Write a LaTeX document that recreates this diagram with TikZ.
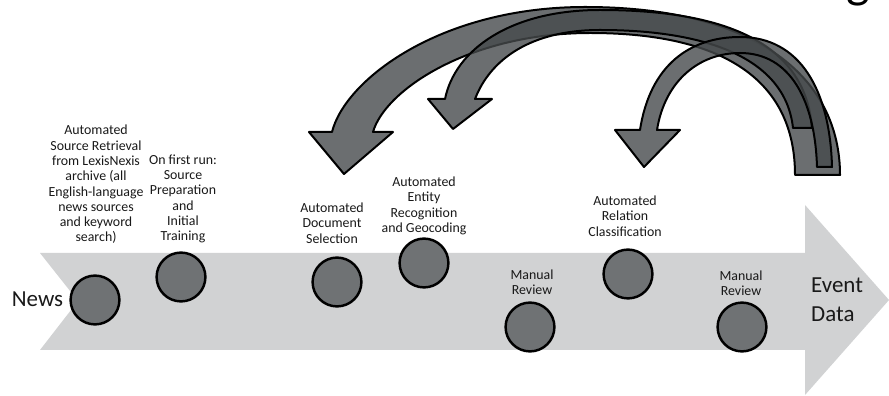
\documentclass[tikz,border=0pt]{standalone}
\usepackage{fontspec}
\setmainfont{Carlito}
\definecolor{bandgray}{RGB}{209,210,211}
\definecolor{stagegray}{RGB}{111,114,116}
\definecolor{arcfill}{RGB}{70,74,76}
\definecolor{labeltext}{RGB}{25,25,25}
\tikzset{
  stage/.style={circle, draw=black, line width=2.1pt, fill=stagegray,
    minimum size=41.5pt, inner sep=0pt},
  lbl/.style={align=center, inner sep=0pt, text=labeltext,
    font=\fontsize{11.8}{13}\selectfont},
  bigtxt/.style={inner sep=0pt, align=left, text=labeltext,
    font=\fontsize{19.5}{24.65}\selectfont},
  loopback/.style={fill=arcfill, fill opacity=0.8, draw=black,
    line width=1.7pt, line join=round},
}
\begin{document}
\begin{tikzpicture}[x=0.85pt,y=-0.85pt]
\useasboundingbox (0,0) rectangle (889,396);
\clip (0,0) rectangle (889,396);

% fragment of the heading above the picture
\node[inner sep=0pt, anchor=south, font=\fontsize{42.5}{50}\selectfont] (headfrag) at (858,6.5) {g};

% main process arrow
\fill[bandgray] (40,253) -- (805,253) -- (805,205) -- (889,300) -- (805,395)
  -- (805,350) -- (40,350) -- (78,301) -- cycle;

% feedback arrows
\draw[loopback] (840,175) .. controls (840,80) and (760,7) .. (585,7)
  .. controls (440,7) and (345,80) .. (332,132) -- (309,132) -- (344,174)
  -- (393,132) -- (373,132) .. controls (385,90) and (470,33) .. (590,33)
  .. controls (750,33) and (795,100) .. (795,175) -- cycle;
\draw[loopback] (812,128) .. controls (805,40) and (720,10) .. (600,10)
  .. controls (510,10) and (455,50) .. (445,99) -- (428,99) -- (453,129)
  -- (492,99) -- (475,99) .. controls (490,60) and (530,30) .. (600,30)
  .. controls (700,30) and (785,55) .. (793,128) -- cycle;
\draw[loopback] (832,167) .. controls (830,90) and (800,37) .. (740,37)
  .. controls (690,37) and (650,65) .. (640,130) -- (615,130) -- (644,167)
  -- (680,130) -- (657,130) .. controls (665,80) and (700,53) .. (740,53)
  .. controls (790,53) and (815,100) .. (817,167) -- cycle;

% stages
\node[stage] (retrieve) at (95,300) {};
\node[stage] (prep)     at (181,277) {};
\node[stage] (docsel)   at (337,282) {};
\node[stage] (entity)   at (424,263) {};
\node[stage] (review1)  at (530,327) {};
\node[stage] (relation) at (628,274) {};
\node[stage] (review2)  at (742,327) {};

% end points
\node[bigtxt] (news) at (37.5,299) {News};
\node[bigtxt, anchor=west] (eventdata) at (811,300) {Event\\Data};

% stage labels
\node[lbl] (retrievelbl) at (96,184.5) {Automated\\Source Retrieval\\from LexisNexis\\archive (all\\English-language\\news sources\\and keyword\\search)};
\node[lbl] (preplbl) at (183,199) {On first run:\\Source\\Preparation\\and\\Initial\\Training};
\node[lbl] (docsellbl) at (332,223) {Automated\\Document\\Selection};
\node[lbl] (entitylbl) at (424,206) {Automated\\Entity\\Recognition\\and Geocoding};
\node[lbl] (review1lbl) at (532,282.5) {Manual\\Review};
\node[lbl] (relationlbl) at (625,216) {Automated\\Relation\\Classification};
\node[lbl] (review2lbl) at (741,283.5) {Manual\\Review};
\end{tikzpicture}
\end{document}
